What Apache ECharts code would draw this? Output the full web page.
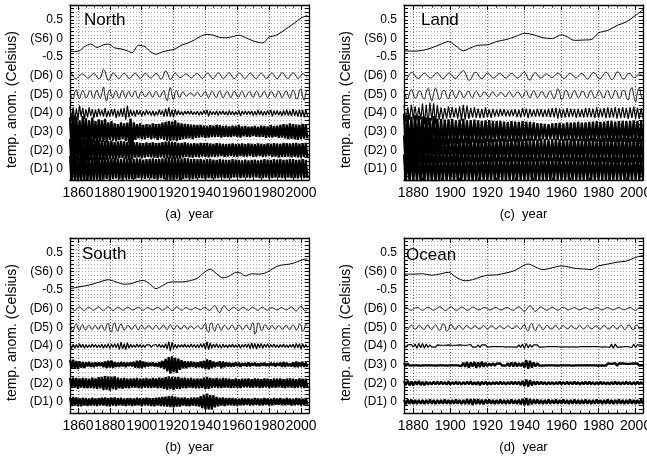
<!DOCTYPE html>
<html><head><meta charset="utf-8">
<script src="https://cdn.jsdelivr.net/npm/echarts/dist/echarts.min.js"></script>
<style>html,body{margin:0;padding:0;background:#fff}#c{width:647px;height:462px}</style>
</head><body><div id="c"></div>
<script>
// ---------------- DATA (temperature anomaly components, °C) ----------------
// yearly sample grids
const yearsNS = Array.from({length:150},(_,i)=>1855+i);   // North / South
const yearsLO = Array.from({length:130},(_,i)=>1875+i);   // Land / Ocean
const yTickValues = [0.5,0,-0.5,-1,-1.5,-2,-2.5,-3,-3.5];
const yTickLabels = ['0.5','(S6) 0','-0.5','(D6) 0','(D5) 0','(D4) 0','(D3) 0','(D2) 0','(D1) 0'];
const compNames = ['S6','D6','D5','D4','D3','D2','D1'];
const compOffsets = [0,-1,-1.5,-2,-2.5,-3,-3.5];

// ---- North ----
const northS6Years = [1855,1858,1861,1864,1868,1872,1876,1879,1883,1887,1891,1894,1898,1902,1905,1909,1913,1917,1921,1925,1929,1933,1937,1941,1945,1949,1953,1957,1961,1965,1969,1973,1976,1980,1984,1988,1992,1996,2000,2004];
const northS6 = [-.33,-.35,-.33,-.22,-.15,-.24,-.17,-.15,-.25,-.28,-.33,-.38,-.18,-.22,-.34,-.42,-.36,-.32,-.28,-.18,-.12,-.04,.06,.11,.09,.03,.02,.05,.09,.03,-.05,-.1,-.12,.04,.08,.18,.3,.42,.55,.62];
const northD6 = [.1,.06,-.02,-.07,-.08,-.05,0,.04,.05,.02,
-.03,-.06,-.05,-.01,.04,.06,.03,-.03,-.08,-.06,
.05,.17,.12,-.04,-.12,-.08,.02,.07,.05,-.01,
-.06,-.07,-.02,.04,.07,.04,-.02,-.07,-.06,0,
.05,.07,.03,-.03,-.07,-.05,.01,.06,.05,0,
-.05,-.06,-.02,.03,.06,.04,-.03,-.09,-.06,.05,
.13,.09,-.03,-.1,-.06,.03,.07,.04,-.02,-.05,
-.04,0,.04,.05,.02,-.03,-.06,-.04,.01,.05,
.06,.02,-.04,-.07,-.04,.02,.07,.06,0,-.06,
-.08,-.03,.04,.08,.05,-.02,-.07,-.06,0,.06,
.08,.03,-.04,-.08,-.05,.02,.07,.06,0,-.06,
-.07,-.03,.03,.07,.05,-.01,-.06,-.07,-.02,.04,
.07,.04,-.02,-.07,-.06,0,.06,.07,.02,-.05,
-.08,-.04,.03,.08,.06,0,-.06,-.07,-.02,.05,
.08,.05,-.02,-.07,-.05,.01,.05,.04,-.01,-.04];
const northD5 = [.1,-.08,-.12,.06,.12,-.04,-.11,.02,.1,.03,
-.09,-.06,.08,.09,-.05,-.1,.04,.11,-.02,-.1,
.02,.2,-.05,-.18,.04,.12,-.03,-.1,.05,.09,
-.05,-.1,.04,.1,-.02,-.09,.03,.08,-.04,-.07,
.05,.09,-.04,-.1,.02,.08,.01,-.06,-.05,.04,
.07,-.03,-.08,.02,.08,.02,-.07,-.05,.06,.1,
-.08,-.17,.06,.18,-.02,-.14,.05,.1,-.04,-.08,
.03,.07,0,-.05,-.02,.03,.04,-.02,-.05,.02,
.06,.01,-.06,-.04,.04,.08,-.02,-.09,0,.08,
.05,-.06,-.08,.03,.09,0,-.09,-.04,.06,.07,
-.03,-.09,.01,.08,.04,-.06,-.07,.03,.08,0,
-.08,-.03,.06,.07,-.03,-.08,.01,.08,.03,-.07,
-.06,.04,.08,-.01,-.09,-.02,.07,.06,-.05,-.08,
.03,.09,.01,-.09,-.04,.07,.08,-.04,-.1,.02,
.12,.05,-.12,-.1,.1,.15,-.06,-.16,.04,.12];
const northD4 = [.18,-.2,.15,-.22,.12,-.18,.2,-.1,.14,-.16,
.1,-.12,.15,-.08,.1,-.13,.09,-.11,.12,-.07,
.08,-.1,.13,-.12,.06,-.09,.1,-.07,.11,-.13,
.07,-.09,.12,-.1,.14,-.18,.2,-.12,.09,-.08,
.06,-.1,.08,-.05,.07,-.09,.05,-.06,.08,-.04,
.05,-.07,.06,-.08,.04,-.06,.09,-.05,.07,-.1,
.12,-.09,.15,-.1,.08,-.12,.1,-.06,.07,-.05,
.04,-.06,.05,-.03,.05,-.04,.06,-.05,.03,-.04,
.05,-.06,.04,-.05,.07,-.04,.08,-.09,.06,-.05,
.04,-.05,.06,-.07,.05,-.04,.06,-.05,.04,-.06,
.07,-.05,.05,-.06,.04,-.05,.07,-.08,.05,-.04,
.06,-.05,.05,-.04,.06,-.07,.05,-.06,.08,-.05,
.06,-.07,.05,-.06,.07,-.05,.08,-.09,.06,-.05,
.07,-.06,.05,-.08,.07,-.06,.09,-.07,.06,-.08,
.1,-.08,.07,-.1,.09,-.11,.08,-.12,.1,-.08];
const northD3 = [.38,-.42,.45,-.35,.4,-.44,.3,-.38,.42,-.33,
.36,-.4,.3,-.34,.38,-.3,.28,-.35,.33,-.27,
.3,-.28,.34,-.3,.25,-.22,.28,-.24,.22,-.26,
.2,-.23,.25,-.2,.22,-.25,.24,-.3,.35,-.55,
.25,-.22,.2,-.18,.22,-.2,.18,-.21,.2,-.17,
.19,-.2,.22,-.18,.2,-.23,.21,-.19,.24,-.22,
.26,-.24,.28,-.25,.27,-.23,.3,-.26,.24,-.22,
.22,-.2,.21,-.19,.2,-.18,.19,-.2,.18,-.17,
.17,-.16,.18,-.15,.16,-.17,.15,-.16,.17,-.15,
.16,-.15,.18,-.14,.17,-.16,.15,-.14,.16,-.15,
.14,-.15,.16,-.13,.15,-.14,.18,-.16,.14,-.13,
.15,-.14,.13,-.15,.14,-.12,.15,-.14,.13,-.15,
.16,-.14,.15,-.17,.14,-.15,.17,-.16,.15,-.14,
.16,-.17,.18,-.16,.2,-.18,.19,-.2,.22,-.19,
.2,-.21,.19,-.22,.18,-.2,.21,-.19,.2,-.18];
const northD2 = [.3,-.35,.32,-.3,.36,-.28,.33,-.34,.3,-.32,
.28,-.3,.32,-.27,.3,-.29,.26,-.3,.28,-.26,
.25,-.27,.24,-.26,.25,-.23,.26,-.24,.22,-.25,
.23,-.22,.25,-.21,.24,-.23,.22,-.26,.3,-.24,
.21,-.2,.22,-.19,.2,-.21,.19,-.2,.21,-.18,
.2,-.19,.21,-.2,.19,-.21,.2,-.19,.22,-.2,
.23,-.21,.24,-.22,.23,-.24,.22,-.21,.2,-.22,
.2,-.19,.21,-.18,.2,-.19,.18,-.2,.19,-.18,
.18,-.19,.2,-.17,.19,-.18,.2,-.19,.18,-.17,
.17,-.18,.19,-.17,.18,-.16,.17,-.18,.16,-.17,
.17,-.16,.18,-.17,.16,-.18,.17,-.16,.18,-.17,
.16,-.17,.18,-.16,.17,-.18,.16,-.17,.18,-.16,
.17,-.18,.16,-.17,.18,-.16,.17,-.18,.19,-.17,
.18,-.19,.17,-.18,.2,-.18,.19,-.17,.18,-.19,
.19,-.18,.2,-.19,.18,-.2,.19,-.18,.2,-.19];
const northD1 = [.35,-.32,.38,-.3,.34,-.36,.3,-.33,.37,-.31,
.33,-.3,.32,-.34,.3,-.31,.33,-.29,.31,-.32,
.3,-.28,.31,-.27,.29,-.3,.28,-.27,.3,-.26,
.27,-.28,.26,-.29,.28,-.26,.27,-.28,.3,-.27,
.26,-.27,.28,-.25,.27,-.26,.25,-.27,.26,-.25,
.27,-.26,.28,-.27,.26,-.28,.27,-.26,.28,-.27,
.3,-.29,.31,-.3,.29,-.31,.3,-.28,.29,-.3,
.28,-.27,.29,-.26,.28,-.27,.26,-.28,.27,-.26,
.26,-.25,.27,-.26,.25,-.27,.26,-.25,.27,-.26,
.25,-.26,.24,-.25,.26,-.24,.25,-.26,.24,-.25,
.24,-.25,.26,-.24,.25,-.23,.24,-.25,.23,-.24,
.25,-.24,.23,-.25,.24,-.23,.25,-.24,.23,-.25,
.24,-.25,.26,-.24,.25,-.26,.24,-.25,.26,-.24,
.25,-.24,.26,-.25,.24,-.26,.25,-.24,.26,-.25,
.26,-.25,.24,-.26,.25,-.24,.26,-.25,.24,-.25];

// ---- South ----
const southS6Years = [1855,1860,1865,1870,1875,1879,1884,1889,1893,1897,1901,1905,1909,1913,1917,1921,1925,1930,1935,1939,1943,1947,1951,1955,1959,1962,1965,1969,1973,1977,1981,1985,1989,1993,1997,2001,2004];
const southS6 = [-.46,-.42,-.38,-.33,-.26,-.22,-.28,-.34,-.33,-.27,-.24,-.33,-.46,-.38,-.29,-.28,-.28,-.25,-.18,-.03,.06,-.06,-.17,-.12,-.03,-.04,-.12,-.06,-.07,-.05,.04,.14,.18,.2,.25,.32,.34];
const southD6 = [.05,.02,-.03,-.05,-.02,.03,.05,.02,-.03,-.05,
-.02,.03,.04,.01,-.03,-.04,-.01,.03,.05,.02,
-.03,-.05,-.02,.03,.05,.03,-.02,-.05,-.03,.02,
.04,.03,-.01,-.04,-.03,.01,.04,.03,-.01,-.03,
-.03,0,.03,.04,.01,-.03,-.04,-.01,.02,.03,
.01,-.02,-.03,-.01,.02,.04,.02,-.02,-.04,-.02,
.02,.05,.03,-.02,-.05,-.03,.02,.05,.03,-.02,
-.04,-.02,.02,.03,.01,-.02,-.03,-.01,.02,.03,
.01,-.02,-.03,0,.03,.04,0,-.04,-.04,.01,
.06,.08,.02,-.07,-.1,-.03,.06,.08,.02,-.04,
-.05,-.01,.03,.04,.01,-.03,-.04,-.01,.03,.04,
.01,-.03,-.04,-.01,.03,.04,.01,-.03,-.04,-.01,
.03,.04,.01,-.03,-.04,-.01,.02,.03,.01,-.02,
-.03,-.01,.02,.03,.01,-.02,-.03,0,.03,.05,
.02,-.04,-.06,-.02,.04,.07,.03,-.04,-.06,-.02];
const southD5 = [.1,-.05,-.1,.04,.09,-.02,-.08,.03,.07,-.04,
-.07,.03,.06,-.02,-.06,.02,.05,-.03,-.05,.04,
.06,-.05,-.08,.06,.11,-.07,-.12,.05,.12,-.03,
-.1,.02,.09,.01,-.07,-.03,.05,.04,-.04,-.05,
.03,.06,-.02,-.07,.02,.06,0,-.05,-.02,.04,
.04,-.03,-.05,.02,.06,0,-.05,-.03,.04,.05,
-.03,-.06,.02,.07,0,-.06,-.02,.05,.03,-.04,
-.04,.03,.05,-.02,-.05,.02,.04,-.01,-.04,0,
.04,.02,-.04,-.04,.06,.1,-.08,-.13,.09,.12,
-.06,-.1,.05,.09,-.02,-.08,.01,.06,.02,-.05,
-.04,.04,.06,-.02,-.07,0,.06,.03,-.05,-.04,
.04,.06,-.03,-.07,.08,.12,-.18,-.1,.12,.08,
-.08,-.06,.06,.06,-.04,-.06,.03,.05,-.02,-.05,
.01,.05,.02,-.05,-.04,.04,.05,-.03,-.06,.02,
.07,.01,-.07,-.03,.09,.05,-.1,-.06,.08,.05];
const southD4 = [.06,-.07,.05,-.06,.04,-.05,.06,-.04,.05,-.06,
.04,-.05,.03,-.04,.05,-.03,.04,-.05,.03,-.04,
.05,-.06,.04,-.05,.06,-.07,.05,-.04,.06,-.05,
.07,-.09,.1,-.08,.06,-.1,.09,-.06,.05,-.04,
.03,-.04,.05,-.03,.04,-.05,.03,-.04,.03,-.02,
.03,-.04,.02,-.03,.04,-.03,.05,-.04,.03,-.05,
.06,-.08,.12,-.14,.1,-.07,.05,-.06,.04,-.03,
.04,-.03,.05,-.04,.03,-.04,.05,-.03,.04,-.05,
.04,-.05,.06,-.04,.07,-.09,.12,-.1,.08,-.06,
.05,-.04,.06,-.05,.04,-.06,.05,-.04,.03,-.05,
.04,-.03,.05,-.04,.03,-.04,.05,-.06,.04,-.03,
.05,-.04,.06,-.07,.08,-.06,.07,-.08,.06,-.05,
.07,-.06,.05,-.04,.06,-.05,.04,-.03,.05,-.04,
.03,-.05,.04,-.03,.05,-.04,.03,-.05,.04,-.03,
.05,-.06,.07,-.05,.06,-.08,.06,-.05,.04,-.05];
const southD3 = [.12,-.1,.13,-.11,.1,-.12,.09,-.08,.07,-.09,
.06,-.05,.07,-.06,.05,-.07,.06,-.05,.06,-.04,
.06,-.07,.08,-.09,.1,-.08,.11,-.09,.07,-.06,
.05,-.06,.07,-.05,.06,-.07,.05,-.04,.06,-.05,
.07,-.08,.1,-.09,.11,-.1,.08,-.07,.06,-.05,
.05,-.04,.06,-.05,.04,-.06,.07,-.08,.1,-.12,
.15,-.18,.2,-.24,.22,-.2,.18,-.22,.16,-.14,
.12,-.1,.09,-.1,.08,-.07,.08,-.06,.07,-.08,
.06,-.07,.08,-.09,.1,-.12,.14,-.13,.12,-.1,
.08,-.07,.06,-.05,.09,-.1,.08,-.07,.06,-.05,
.05,-.06,.04,-.05,.06,-.04,.05,-.06,.04,-.03,
.04,-.05,.06,-.05,.04,-.03,.05,-.04,.03,-.04,
.04,-.03,.05,-.04,.03,-.04,.05,-.03,.04,-.05,
.04,-.03,.05,-.06,.07,-.06,.05,-.04,.03,-.05,
.06,-.07,.08,-.07,.06,-.05,.07,-.06,.05,-.06];
const southD2 = [.14,-.13,.15,-.12,.14,-.15,.13,-.12,.14,-.13,
.13,-.14,.12,-.13,.15,-.14,.13,-.15,.16,-.14,
.17,-.18,.19,-.17,.18,-.2,.17,-.16,.18,-.17,
.15,-.14,.13,-.15,.14,-.13,.12,-.14,.13,-.12,
.13,-.12,.14,-.13,.12,-.14,.13,-.12,.14,-.13,
.12,-.13,.14,-.12,.13,-.14,.15,-.13,.14,-.15,
.16,-.17,.18,-.16,.17,-.18,.16,-.15,.17,-.16,
.14,-.13,.15,-.14,.13,-.12,.14,-.13,.12,-.14,
.13,-.14,.12,-.13,.15,-.16,.17,-.15,.14,-.13,
.13,-.12,.14,-.13,.12,-.13,.14,-.12,.13,-.12,
.12,-.13,.11,-.12,.13,-.12,.11,-.13,.12,-.11,
.12,-.11,.13,-.12,.11,-.12,.13,-.11,.12,-.13,
.11,-.12,.13,-.11,.12,-.13,.11,-.12,.13,-.12,
.12,-.11,.13,-.12,.11,-.13,.12,-.11,.13,-.12,
.12,-.13,.11,-.12,.13,-.11,.12,-.13,.12,-.11];
const southD1 = [.12,-.11,.13,-.1,.12,-.11,.1,-.12,.11,-.1,
.1,-.11,.09,-.1,.11,-.1,.09,-.11,.1,-.09,
.11,-.1,.12,-.11,.1,-.12,.11,-.1,.12,-.11,
.1,-.09,.11,-.1,.09,-.11,.1,-.09,.1,-.11,
.09,-.1,.11,-.09,.1,-.11,.1,-.09,.11,-.1,
.1,-.11,.1,-.12,.11,-.1,.12,-.11,.13,-.12,
.14,-.13,.15,-.14,.16,-.15,.14,-.13,.12,-.13,
.11,-.1,.12,-.11,.1,-.12,.11,-.1,.12,-.11,
.12,-.13,.15,-.17,.19,-.2,.22,-.2,.18,-.21,
.17,-.15,.13,-.12,.11,-.1,.12,-.11,.1,-.09,
.1,-.09,.1,-.1,.09,-.1,.08,-.09,.1,-.09,
.09,-.08,.09,-.1,.08,-.09,.1,-.08,.09,-.1,
.08,-.09,.1,-.08,.09,-.1,.08,-.09,.1,-.08,
.09,-.08,.1,-.09,.08,-.09,.1,-.08,.09,-.1,
.08,-.09,.1,-.08,.09,-.1,.08,-.09,.1,-.08];

// ---- Land ----
const landS6Years = [1875,1880,1885,1890,1895,1899,1903,1907,1911,1915,1920,1925,1930,1935,1940,1945,1950,1955,1960,1963,1967,1972,1976,1980,1985,1990,1995,2000,2004];
const landS6 = [-.33,-.34,-.32,-.25,-.15,-.08,-.2,-.33,-.25,-.18,-.17,-.08,-.03,.05,.14,.1,.02,0,.1,.05,-.05,-.04,-.03,.15,.22,.35,.45,.62,.78];
const landD6 = [-.08,-.1,-.04,.04,.09,.07,0,-.06,-.07,-.02,
.04,.07,.04,-.02,-.06,-.05,.01,.06,.08,.03,
-.04,-.08,-.05,.02,.07,.06,0,-.06,-.07,-.02,
.04,.1,.14,.08,-.04,-.12,-.1,0,.08,.09,
.03,-.05,-.08,-.04,.03,.07,.05,-.01,-.06,-.05,
0,.05,.06,.02,-.04,-.06,-.03,.03,.06,.04,
-.02,-.06,-.05,.01,.07,.1,.03,-.08,-.12,-.04,
.05,.08,.03,-.04,-.06,-.03,.03,.05,.02,-.03,
-.05,-.02,.04,.07,.05,-.02,-.07,-.06,0,.05,
.06,.02,-.04,-.06,-.02,.04,.06,.02,-.05,-.09,
-.05,.03,.08,.07,0,-.07,-.08,-.02,.05,.1,
.06,-.03,-.1,-.08,.02,.1,.09,0,-.08,-.08,
-.01,.06,.06,0,-.05,-.04,.02,.05,.03,-.02];
const landD5 = [.08,-.06,-.12,.04,.13,.02,-.11,-.05,.09,.08,
-.08,-.12,.06,.16,-.02,-.18,.02,.17,.04,-.14,
-.08,.1,.1,-.06,-.12,.04,.11,-.02,-.1,0,
.09,.04,-.08,-.06,.06,.08,-.04,-.09,.03,.08,
.01,-.07,-.03,.06,.05,-.04,-.07,.03,.07,-.01,
-.06,-.02,.05,.04,-.04,-.06,.03,.07,-.01,-.07,
-.02,.06,.05,-.05,-.08,.04,.09,-.03,-.1,.02,
.1,.01,-.09,-.04,.07,.06,-.06,-.08,.04,.09,
-.02,-.12,0,.15,.06,-.14,-.08,.1,.09,-.06,
-.1,.03,.1,.01,-.09,-.04,.08,.07,-.06,-.09,
.04,.1,-.01,-.1,-.04,.09,.07,-.07,-.09,.05,
.1,-.02,-.11,-.02,.11,.05,-.1,-.07,.1,.1,
-.08,-.15,.08,.18,-.03,-.2,.05,.17,-.04,-.14];
const landD4 = [.2,-.25,.15,-.18,.22,-.15,.18,-.2,.15,-.17,
.25,-.3,.22,-.32,.28,-.2,.26,-.3,.22,-.18,
.15,-.17,.13,-.15,.18,-.14,.16,-.12,.14,-.15,
.18,-.2,.22,-.18,.2,-.16,.14,-.12,.15,-.13,
.12,-.14,.11,-.13,.15,-.12,.1,-.13,.11,-.1,
.09,-.1,.11,-.08,.1,-.09,.08,-.1,.09,-.08,
.1,-.11,.09,-.12,.13,-.1,.12,-.14,.11,-.1,
.09,-.1,.11,-.09,.1,-.11,.09,-.1,.12,-.11,
.13,-.12,.14,-.15,.12,-.13,.11,-.12,.13,-.11,
.12,-.1,.11,-.13,.12,-.11,.1,-.12,.14,-.12,
.13,-.11,.12,-.14,.15,-.13,.12,-.11,.13,-.14,
.15,-.13,.14,-.12,.16,-.15,.13,-.14,.16,-.13,
.14,-.16,.15,-.13,.17,-.15,.14,-.16,.13,-.15];
const landD3 = [.48,-.42,.45,-.5,.4,-.46,.44,-.4,.42,-.38,
.4,-.44,.38,-.42,.36,-.4,.42,-.38,.35,-.4,
.34,-.36,.32,-.35,.33,-.3,.34,-.32,.3,-.33,
.32,-.3,.34,-.31,.3,-.33,.31,-.29,.32,-.3,
.3,-.32,.29,-.31,.3,-.28,.31,-.3,.29,-.28,
.28,-.27,.29,-.26,.27,-.28,.26,-.27,.28,-.26,
.27,-.28,.26,-.27,.28,-.26,.27,-.25,.26,-.24,
.25,-.24,.23,-.25,.22,-.2,.21,-.22,.2,-.21,
.22,-.21,.23,-.22,.24,-.23,.22,-.24,.25,-.23,
.24,-.26,.25,-.24,.26,-.25,.24,-.26,.25,-.27,
.26,-.25,.27,-.26,.28,-.27,.26,-.28,.27,-.26,
.28,-.27,.29,-.28,.27,-.29,.28,-.27,.29,-.28,
.28,-.3,.29,-.27,.3,-.28,.29,-.3,.28,-.29];
const landD2 = [.4,-.38,.42,-.36,.4,-.39,.37,-.4,.38,-.36,
.36,-.35,.37,-.34,.36,-.35,.34,-.36,.35,-.34,
.33,-.32,.34,-.33,.32,-.34,.33,-.32,.34,-.33,
.32,-.33,.31,-.32,.33,-.31,.32,-.33,.31,-.32,
.31,-.32,.3,-.31,.32,-.3,.31,-.32,.3,-.31,
.3,-.31,.32,-.3,.31,-.32,.3,-.31,.32,-.3,
.31,-.3,.32,-.31,.3,-.32,.31,-.3,.32,-.31,
.3,-.31,.29,-.3,.31,-.29,.3,-.31,.29,-.3,
.3,-.29,.31,-.3,.29,-.31,.3,-.29,.31,-.3,
.31,-.3,.32,-.31,.3,-.32,.31,-.3,.32,-.31,
.32,-.31,.33,-.32,.31,-.33,.32,-.31,.33,-.32,
.33,-.32,.34,-.33,.32,-.34,.33,-.32,.34,-.33,
.33,-.34,.32,-.33,.34,-.32,.33,-.34,.32,-.33];
const landD1 = [.38,-.36,.4,-.37,.39,-.35,.38,-.36,.37,-.38,
.36,-.35,.37,-.34,.36,-.37,.35,-.36,.34,-.35,
.34,-.33,.35,-.34,.33,-.35,.34,-.33,.35,-.34,
.33,-.34,.32,-.33,.34,-.32,.33,-.34,.32,-.33,
.32,-.33,.34,-.32,.33,-.34,.32,-.33,.34,-.32,
.31,-.32,.33,-.31,.32,-.33,.31,-.32,.33,-.31,
.32,-.31,.33,-.32,.31,-.33,.32,-.31,.33,-.32,
.31,-.32,.3,-.31,.32,-.3,.31,-.32,.3,-.31,
.3,-.31,.32,-.3,.31,-.32,.3,-.31,.32,-.3,
.31,-.3,.32,-.31,.3,-.32,.31,-.3,.32,-.31,
.32,-.31,.3,-.32,.31,-.3,.32,-.31,.3,-.32,
.31,-.32,.3,-.31,.32,-.3,.31,-.32,.3,-.31,
.32,-.31,.3,-.32,.31,-.3,.32,-.31,.3,-.32];

// ---- Ocean ----
const oceanS6Years = [1875,1880,1885,1890,1895,1899,1903,1908,1912,1916,1920,1925,1930,1935,1939,1942,1946,1950,1955,1960,1964,1968,1972,1976,1980,1985,1990,1995,2000,2004];
const oceanS6 = [-.07,-.07,-.06,-.1,-.06,-.02,-.15,-.25,-.22,-.15,-.1,-.09,-.04,.03,.15,.2,.12,.05,.1,.15,.12,.08,.07,.05,.15,.2,.25,.28,.38,.43];
const oceanD6 = [.03,.04,.01,-.03,-.04,-.01,.02,.04,.02,-.02,
-.04,-.02,.02,.04,.02,-.02,-.04,-.02,.02,.05,
.04,-.01,-.05,-.04,.01,.05,.04,-.01,-.04,-.03,
.01,.04,.03,-.01,-.04,-.03,.01,.04,.03,-.01,
-.03,-.03,.01,.03,.03,0,-.03,-.03,0,.03,
.03,0,-.03,-.03,0,.03,.03,0,-.03,-.04,
-.01,.03,.05,.02,-.04,-.07,-.03,.04,.08,.04,
-.04,-.07,-.03,.03,.05,.02,-.02,-.04,-.02,.02,
.04,.02,-.02,-.04,-.02,.02,.04,.02,-.02,-.03,
-.01,.02,.03,.01,-.02,-.03,-.01,.02,.03,.01,
-.02,-.03,-.01,.02,.03,.01,-.02,-.03,-.01,.02,
.03,.01,-.02,-.03,-.01,.02,.03,.01,-.02,-.03,
-.01,.02,.04,.01,-.03,-.04,-.01,.03,.04,0];
const oceanD5 = [.05,-.03,-.06,.02,.06,0,-.05,-.02,.05,.03,
-.04,-.05,.03,.06,-.02,-.06,.02,.07,0,-.08,
-.04,.1,.06,-.1,-.07,.08,.06,-.04,-.05,.03,
.05,-.02,-.05,.02,.05,0,-.04,-.02,.04,.03,
-.03,-.04,.02,.05,0,-.05,-.02,.04,.03,-.03,
-.04,.02,.04,-.01,-.04,0,.04,.02,-.03,-.03,
.03,.04,-.02,-.05,.03,.08,-.04,-.1,.05,.1,
-.03,-.09,.02,.07,.01,-.06,-.02,.05,.03,-.04,
-.04,.03,.05,-.02,-.05,.01,.05,.01,-.04,-.02,
.04,.03,-.03,-.04,.02,.05,-.01,-.05,0,.05,
.02,-.04,-.03,.03,.04,-.02,-.05,.01,.05,.02,
-.04,-.04,.03,.05,-.01,-.05,.01,.06,.02,-.06,
-.03,.06,.05,-.05,-.06,.05,.06,-.04,-.05,.03];
const oceanD4 = [.03,-.04,.03,-.02,.04,-.03,.05,-.06,.07,-.05,
.07,-.06,.05,-.04,.03,-.03,.02,-.03,.03,-.02,
.02,-.03,.02,-.02,.03,-.02,.02,-.03,.02,-.02,
.03,-.02,.02,-.03,.02,-.03,.04,-.03,.02,-.03,
.03,-.04,.03,-.02,.03,-.03,.02,-.02,.03,-.02,
.02,-.02,.03,-.02,.02,-.03,.02,-.02,.02,-.03,
.02,-.03,.03,-.04,.05,-.07,.07,-.05,.04,-.03,
.03,-.02,.03,-.03,.02,-.03,.02,-.02,.03,-.02,
.02,-.02,.03,-.02,.02,-.03,.02,-.02,.02,-.03,
.02,-.02,.02,-.03,.02,-.02,.03,-.02,.02,-.02,
.03,-.02,.02,-.02,.03,-.02,.02,-.03,.02,-.02,
.03,-.04,.05,-.06,.05,-.03,.02,-.03,.02,-.02,
.03,-.02,.03,-.04,.05,-.04,.03,-.02,.03,-.02];
const oceanD3 = [.05,-.04,.03,-.03,.02,-.02,.03,-.02,.02,-.03,
.02,-.02,.03,-.02,.02,-.02,.03,-.03,.02,-.02,
.03,-.02,.02,-.03,.02,-.02,.03,-.02,.02,-.02,
.03,-.04,.05,-.06,.07,-.08,.06,-.05,.07,-.08,
.06,-.07,.08,-.06,.05,-.04,.03,-.03,.04,-.03,
.03,-.02,.03,-.03,.02,-.03,.04,-.05,.06,-.05,
.06,-.05,.04,-.04,.05,-.08,.12,-.11,.1,-.08,
.06,-.05,.04,-.03,.02,-.03,.02,-.02,.03,-.02,
.02,-.02,.02,-.03,.02,-.02,.03,-.02,.02,-.02,
.02,-.03,.02,-.02,.03,-.02,.02,-.02,.03,-.02,
.02,-.02,.03,-.02,.02,-.03,.02,-.02,.03,-.03,
.03,-.02,.02,-.03,.04,-.03,.03,-.02,.03,-.02,
.02,-.03,.02,-.02,.03,-.02,.03,-.03,.02,-.02];
const oceanD2 = [.06,-.05,.07,-.06,.05,-.06,.05,-.04,.06,-.05,
.04,-.05,.04,-.04,.03,-.04,.04,-.03,.04,-.03,
.04,-.03,.03,-.04,.05,-.04,.03,-.03,.04,-.03,
.03,-.04,.03,-.03,.04,-.03,.05,-.04,.03,-.04,
.04,-.05,.04,-.03,.04,-.04,.03,-.04,.03,-.03,
.03,-.03,.04,-.03,.03,-.04,.03,-.03,.04,-.03,
.04,-.03,.04,-.05,.06,-.08,.1,-.09,.08,-.06,
.05,-.04,.04,-.03,.04,-.03,.03,-.04,.03,-.03,
.03,-.04,.03,-.03,.04,-.03,.03,-.03,.04,-.03,
.03,-.03,.04,-.03,.03,-.04,.03,-.03,.04,-.03,
.04,-.03,.03,-.04,.03,-.03,.04,-.03,.03,-.04,
.03,-.04,.03,-.03,.04,-.03,.03,-.04,.03,-.03,
.04,-.03,.03,-.04,.03,-.03,.04,-.03,.03,-.04];
const oceanD1 = [.06,-.07,.06,-.05,.06,-.06,.05,-.06,.05,-.05,
.05,-.06,.05,-.05,.06,-.05,.05,-.06,.05,-.05,
.05,-.05,.06,-.05,.05,-.06,.05,-.05,.06,-.05,
.05,-.06,.05,-.06,.07,-.06,.07,-.08,.07,-.06,
.07,-.06,.06,-.07,.06,-.05,.06,-.05,.05,-.06,
.05,-.05,.06,-.05,.05,-.06,.05,-.05,.06,-.05,
.05,-.06,.06,-.07,.08,-.09,.1,-.09,.08,-.07,
.06,-.05,.06,-.05,.05,-.06,.05,-.05,.06,-.05,
.05,-.05,.06,-.05,.05,-.05,.06,-.05,.05,-.06,
.05,-.05,.06,-.05,.05,-.06,.05,-.05,.06,-.05,
.05,-.06,.05,-.05,.06,-.05,.05,-.06,.05,-.05,
.06,-.05,.05,-.06,.05,-.05,.06,-.05,.05,-.06,
.05,-.05,.06,-.05,.05,-.06,.05,-.05,.06,-.05];

// ---------------- LAYOUT ----------------
const FONT = 'Liberation Sans, Arial, Helvetica, sans-serif';
const panels = [
  {name:'North', tag:'(a)', left:70,  top:5,   xmin:1855, xmax:2005, years:yearsNS, s6x:northS6Years, s6:northS6, d:[northD6,northD5,northD4,northD3,northD2,northD1], nameX:84,  nameY:12},
  {name:'Land',  tag:'(c)', left:404, top:5,   xmin:1875, xmax:2004, years:yearsLO, s6x:landS6Years,  s6:landS6,  d:[landD6,landD5,landD4,landD3,landD2,landD1],       nameX:421, nameY:12},
  {name:'South', tag:'(b)', left:70,  top:238, xmin:1855, xmax:2005, years:yearsNS, s6x:southS6Years, s6:southS6, d:[southD6,southD5,southD4,southD3,southD2,southD1], nameX:82,  nameY:246},
  {name:'Ocean', tag:'(d)', left:404, top:238, xmin:1875, xmax:2004, years:yearsLO, s6x:oceanS6Years, s6:oceanS6, d:[oceanD6,oceanD5,oceanD4,oceanD3,oceanD2,oceanD1], nameX:406, nameY:247}
];
const W = 239, H = 175, YMIN = -3.8, YMAX = 0.9;
const lineWidths = [0.9, 0.9, 1.2, 2.3, 2.3, 2.3];   // D6, D5, D4, D3, D2, D1

function yLabel(v){
  const k = Math.round(v*10);
  for (let i=0;i<yTickValues.length;i++) if (Math.round(yTickValues[i]*10)===k) return yTickLabels[i];
  return '';
}
const grids=[], xAxes=[], yAxes=[], series=[], graphics=[];
panels.forEach((p,i)=>{
  grids.push({left:p.left, top:p.top, width:W, height:H, containLabel:false, outerBoundsMode:'none'});
  const tickLine = {color:'#000', width:1};
  xAxes.push({gridIndex:i, type:'value', position:'bottom', min:p.xmin, max:p.xmax, splitNumber:7,
    axisLine:{show:true, onZero:false, lineStyle:{color:'#000', width:1.3}},
    axisTick:{show:true, inside:true, length:5, lineStyle:tickLine},
    minorTick:{show:true, splitNumber:4, length:2.5, lineStyle:tickLine},
    axisLabel:{show:true, formatter:v=>(Math.round(v)%20===0 && v>=p.xmin && v<=p.xmax)?String(Math.round(v)):'', fontSize:14, color:'#000', fontFamily:FONT, margin:6, hideOverlap:false, showMinLabel:true, showMaxLabel:true},
    splitLine:{show:true, lineStyle:{color:'#666', width:1, type:[1,2]}}});
  xAxes.push({gridIndex:i, type:'value', position:'top', min:p.xmin, max:p.xmax, splitNumber:7,
    axisLine:{show:true, onZero:false, lineStyle:{color:'#000', width:1.3}},
    axisTick:{show:true, inside:true, length:5, lineStyle:tickLine},
    minorTick:{show:true, splitNumber:4, length:2.5, lineStyle:tickLine},
    axisLabel:{show:false}, splitLine:{show:false}});
  yAxes.push({gridIndex:i, type:'value', position:'left', min:YMIN, max:YMAX, interval:0.1,
    axisLine:{show:true, onZero:false, lineStyle:{color:'#000', width:1.3}},
    axisTick:{show:true, inside:true, length:4, lineStyle:tickLine},
    axisLabel:{formatter:yLabel, fontSize:12, color:'#000', fontFamily:FONT, margin:7, hideOverlap:false, showMinLabel:true, showMaxLabel:true},
    splitLine:{show:true, lineStyle:{color:'#aaa', width:1, type:[1,2]}}});
  yAxes.push({gridIndex:i, type:'value', position:'right', min:YMIN, max:YMAX, interval:0.1,
    axisLine:{show:true, onZero:false, lineStyle:{color:'#000', width:1.3}},
    axisTick:{show:true, inside:true, length:4, lineStyle:tickLine},
    axisLabel:{show:false}, splitLine:{show:false}});
  // S6
  series.push({type:'line', xAxisIndex:2*i, yAxisIndex:2*i, name:p.name+' S6', showSymbol:false, symbol:'none', smooth:0.3,
    lineStyle:{color:'#000', width:1}, data:p.s6.map((v,k)=>[p.s6x[k], v+compOffsets[0]]), silent:true, animation:false, z:3});
  p.d.forEach((arr,j)=>{
    const off = compOffsets[j+1];
    series.push({type:'line', xAxisIndex:2*i, yAxisIndex:2*i, name:p.name+' '+compNames[j+1], showSymbol:false, symbol:'none',
      smooth: j<2 ? 0.4 : false,
      lineStyle:{color:'#000', width: lineWidths[j], join:'bevel'}, data:arr.map((v,k)=>[p.years[k], +(v+off).toFixed(3)]), silent:true, animation:false, z:3});
  });
  graphics.push({type:'text', left:p.nameX, top:p.nameY, style:{text:p.name, font:'17px '+FONT, fill:'#000'}, z:10});
  graphics.push({type:'text', x:p.left+W/2, y:p.top+H+34, style:{text:p.tag+'  year', font:'13px '+FONT, fill:'#000', textAlign:'center', textVerticalAlign:'middle'}});
  graphics.push({type:'text', x:p.left-58, y:p.top+H/2+7, rotation:Math.PI/2, style:{text:'temp. anom. (Celsius)', font:'14px '+FONT, fill:'#000', textAlign:'center', textVerticalAlign:'middle'}});
});

const chart = echarts.init(document.getElementById('c'), null, {renderer:'canvas'});
chart.setOption({animation:false, backgroundColor:'#fff', grid:grids, xAxis:xAxes, yAxis:yAxes, series:series, graphic:graphics});
</script></body></html>
